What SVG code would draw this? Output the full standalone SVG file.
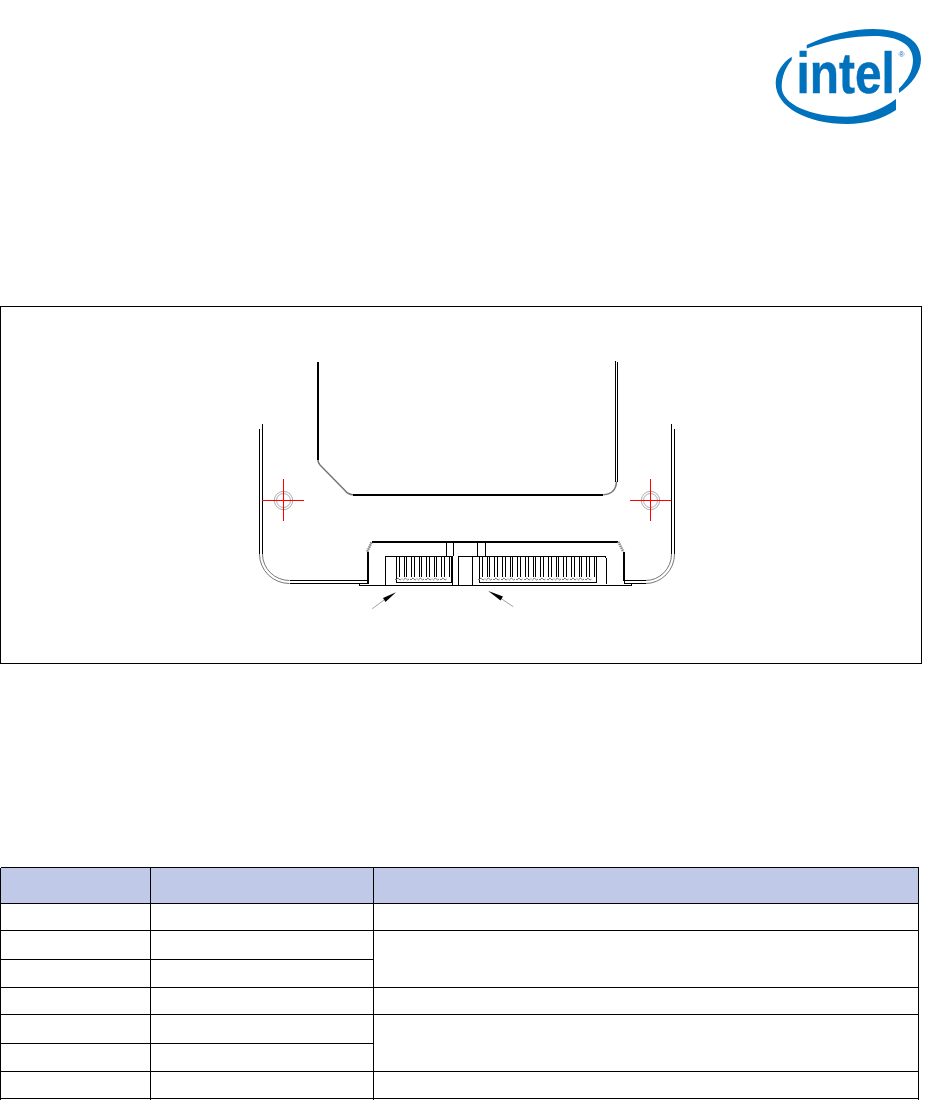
<svg xmlns="http://www.w3.org/2000/svg" width="950" height="1100" viewBox="0 0 950 1100">
<style>
.k{fill:none;stroke:#000;stroke-width:1;shape-rendering:crispEdges}
.t{fill:none;stroke:#000;stroke-width:2;shape-rendering:crispEdges}
.a{fill:none;stroke:#777;stroke-width:1}
.r{fill:none;stroke:#f00;stroke-width:1;shape-rendering:crispEdges}
.c{fill:none;stroke:#999;stroke-width:.8}
.l{fill:none;stroke:#777;stroke-width:.7}
.blue{fill:#0071bc}
</style>
<defs>
<g id="pin"><path class="k" d="M0 556V577M2.500 556V577"/><path class="a" d="M-1.500 579Q-.5 581 .6 579L1.300 578L2.400 579Q3.500 581 5 579"/></g>
</defs>
<rect width="950" height="1100" fill="#fff"/>
<g id="logo">
<path class="blue" d="M806.700 45C830 34 852 29 873 29C902 29 921 40 921 59C921 72 912 84 899 93V88.500C908 80 913 70 913 60C913 45 899 36 874 36C853 36 830 40 806.700 48.500Z"/>
<path class="blue" d="M791.700 56.700C782 63 775.700 73 775.700 83C775.700 107 807 124 847 124C866 124 882 119 896 110V99C880 111 863 116.700 846 116.700C810 116.700 781.700 104 781.700 87C781.700 77 785 68 791.700 60Z"/>
<text transform="translate(796.500 92.700) scale(.84 1)" class="blue" stroke="#0071bc" stroke-width=".5" font-family="'Liberation Sans',Arial,sans-serif" font-weight="700" font-size="57">intel</text>
<text x="898.500" y="57" class="blue" font-family="'Liberation Sans',Arial,sans-serif" font-size="8">®</text>
</g>
<g id="figure">
<rect x=".5" y="306.500" width="921" height="357" fill="#fff" stroke="#000" stroke-width="1"/>
<g id="outer-edges">
<path class="k" d="M259.500 429V554M262.500 424V554M671.500 424V554M674.500 429V554"/>
<path class="a" d="M259.500 554A30 29.500 0 0 0 289.500 583.500M262.500 554A27 26.500 0 0 0 289.500 580.500M671.500 554A26 26.500 0 0 1 645.500 580.500M674.500 554A29 29.500 0 0 1 645.500 583.500"/>
<path class="k" d="M289.500 580.500H367M289.500 583.500H367M624.500 580.500H645.500M624.500 583.500H645.500M624.500 580.500V583.500"/>
</g>
<g id="carrier">
<path class="t" d="M318 361.500V460"/>
<path class="a" d="M318 460Q318 463 320 465L345 490.500Q348 494.500 353 494.700" style="stroke-width:1.500"/>
<path class="t" d="M353 494.500H603"/>
<path class="a" d="M603.300 494.700Q616 494 616.500 481.500" style="stroke-width:1.500"/>
<path class="k" d="M615.500 361V482M617.500 362V482"/>
</g>
<g id="connector">
<path class="t" d="M371.700 541.500H618.300"/>
<path class="t" d="M367.500 551.700V583M623.500 551.700V580.700"/>
<path fill="none" stroke="#888" stroke-width="2.500" stroke-dasharray="1.500 .7" d="M367.300 551.700L371.700 541.700M618.300 541.700L623.300 551.700"/>
<path class="k" d="M359.500 585.500H631.500M359.500 583.500V585.500M631.500 583.500V585.500M367 583.500H369"/>
<path class="k" d="M385.500 585V556.500H452.500V585M458.500 585V556.500H472.500V585M472.500 556.500H605L606.500 559V584"/>
<path class="k" d="M446.500 541.700V556M453.500 541.700V556M477.500 541.700V556M485.500 541.700V556"/>
<path class="k" d="M396.500 556V582.500H451.500V556M479.500 556V582.500H596.500V556"/>
</g>
<g id="pins-data">
<use href="#pin" x="396.500"/><use href="#pin" x="404"/><use href="#pin" x="411.500"/><use href="#pin" x="419"/><use href="#pin" x="426.500"/><use href="#pin" x="434"/><use href="#pin" x="441.500"/>
<path class="k" d="M449.500 556V577"/>
</g>
<g id="pins-power">
<use href="#pin" x="479.500"/><use href="#pin" x="487"/><use href="#pin" x="494.500"/><use href="#pin" x="502.500"/><use href="#pin" x="510"/><use href="#pin" x="517.500"/><use href="#pin" x="525.500"/><use href="#pin" x="533"/><use href="#pin" x="540.500"/><use href="#pin" x="548.500"/><use href="#pin" x="556"/><use href="#pin" x="563.500"/><use href="#pin" x="571.500"/><use href="#pin" x="579"/><use href="#pin" x="586.500"/>
<path class="k" d="M594.500 556V577"/>
</g>
<g id="hole-left">
<circle class="c" cx="283.500" cy="500.500" r="9.200"/><circle class="c" cx="283.500" cy="500.500" r="7"/>
<path class="r" d="M262 500.500H304M283.500 479V520.500"/>
</g>
<g id="hole-right">
<circle class="c" cx="650.500" cy="500.500" r="9.200"/><circle class="c" cx="650.500" cy="500.500" r="7"/>
<path class="r" d="M629.700 500.500H671.300M650.500 479V520.500"/>
</g>
</g>
<g id="connectors">
<path class="l" d="M372.300 608.700L384 600"/>
<polygon points="396,592.300 385.500,602 383,598" fill="#000"/>
<path class="l" d="M513.300 606.700L501 598.500"/>
<polygon points="488.300,591 503,596.500 500.500,600.500" fill="#000"/>
</g>
<g id="table">
<rect x="1" y="867.500" width="918" height="35.500" fill="#c1c9e8"/>
<path class="k" d="M.5 867.500H919M.5 903.500H919M.5 930.500H919M.5 959.500H373M.5 987.500H919M.5 1014.500H919M.5 1043.500H373M.5 1071.500H919M.5 1098.500H919M.5 867.500V1100M150.500 867.500V1100M373.500 867.500V1100M918.500 867.500V1100"/>
</g>
</svg>
